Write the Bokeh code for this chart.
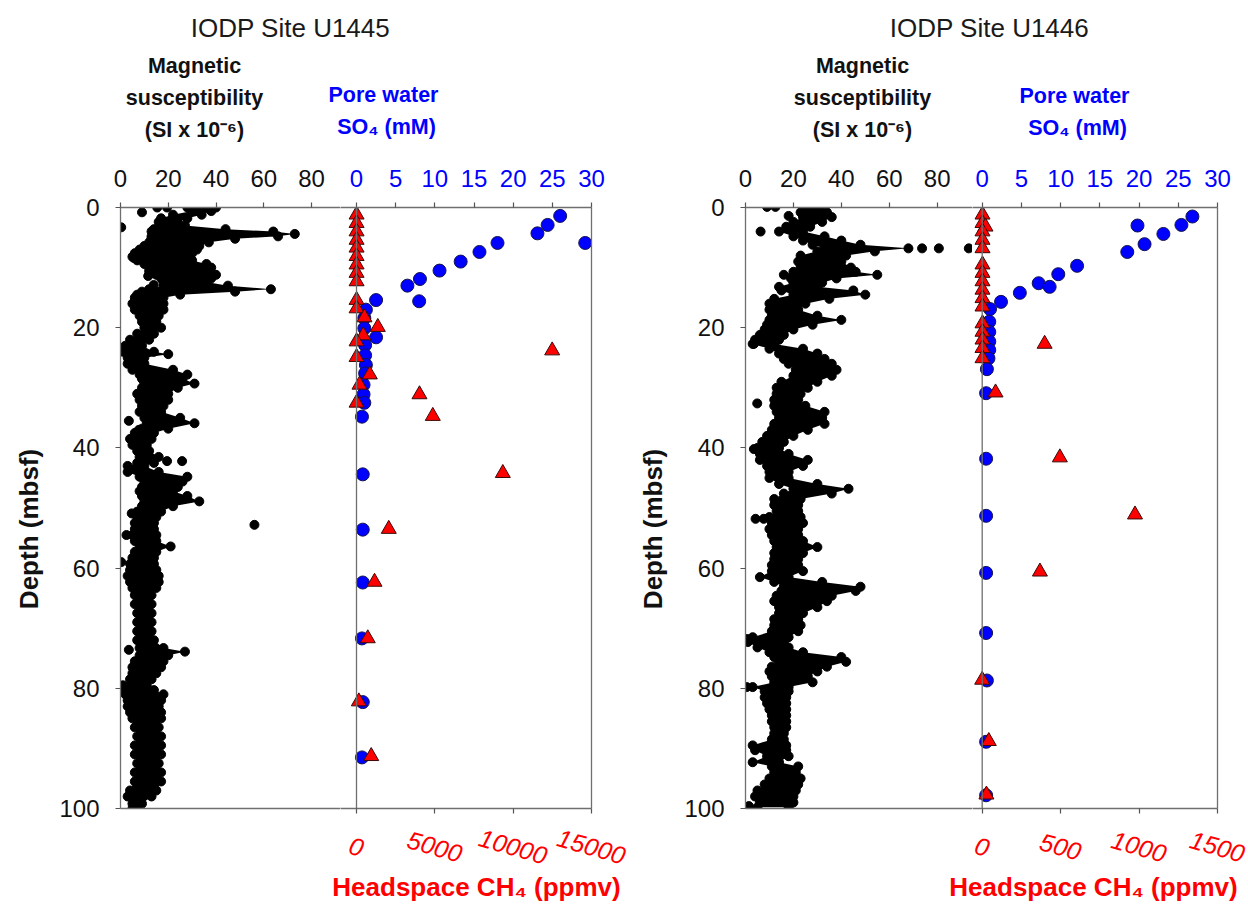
import math
from bokeh.plotting import figure
from bokeh.models import Range1d, LinearAxis, FixedTicker, Span
from bokeh.layouts import row, column
from bokeh.core.properties import value
from bokeh.embed import file_html
from bokeh.resources import INLINE

FONT = "Liberation Sans"

# ---------------- data ----------------
depth_ticks = [0, 20, 40, 60, 80, 100]
mag_ticks = [0, 20, 40, 60, 80]
so4_ticks = [0, 5, 10, 15, 20, 25, 30]
u1445_ch4_ticks = [0, 5000, 10000, 15000]
u1446_ch4_ticks = [0, 500, 1000, 1500]

# U1445 magnetic susceptibility: depth (mbsf) with low / high edge of the dense point cloud
u1445_ms_depth = [0.0, 0.6, 1.2, 1.8, 2.4, 3.0, 3.6, 4.0, 4.4, 4.8,
                  5.2, 5.8, 6.4, 7.0, 7.6, 8.2, 8.8, 9.4, 10.0, 10.6,
                  11.2, 11.8, 12.4, 13.0, 13.6, 14.0, 14.5, 15.0, 16.0, 17.0,
                  18.0, 19.0, 20.0, 21.0, 22.0, 23.0, 24.0, 24.4, 25.0, 26.0,
                  27.0, 27.8, 28.5, 29.3, 30.0, 31.0, 32.0, 33.0, 34.0, 35.0,
                  35.9, 36.8, 37.5, 38.5, 39.5, 40.5, 41.5, 42.5, 43.0, 44.0,
                  44.8, 45.6, 46.5, 47.2, 48.0, 48.9, 49.7, 50.6, 51.5, 52.5,
                  53.5, 54.5, 55.5, 56.4, 57.3, 58.3, 59.3, 60.3, 61.3, 62.3,
                  63.3, 64.5, 66.0, 67.5, 69.0, 70.5, 72.0, 73.3, 73.9, 74.5,
                  75.5, 76.5, 77.5, 78.5, 79.5, 80.3, 81.0, 82.0, 83.0, 84.0,
                  85.0, 86.5, 88.0, 89.5, 91.0, 92.5, 94.0, 95.5, 97.0, 98.0,
                  99.2, 100.0]
u1445_ms_low = [28, 30, 22, 17, 16, 17, 14, 13, 14, 13,
                13, 12, 10, 8, 6, 5, 7, 10, 12, 12,
                15, 17, 18, 18, 12, 9, 7, 6, 5, 6,
                8, 9, 10, 7, 4, 2, 1, 4, 3, 3,
                5, 8, 9, 10, 9, 7, 8, 9, 8, 10,
                11, 9, 6, 4, 5, 7, 8, 7, 3, 3,
                8, 10, 9, 8, 9, 10, 9, 7, 7, 6,
                6, 5, 6, 8, 6, 5, 4, 4, 3, 4,
                5, 6, 6, 7, 7, 7, 7, 8, 9, 8,
                6, 5, 5, 4, 1, 0, 2, 3, 3, 4,
                5, 6, 7, 6, 6, 7, 6, 6, 4, 3,
                5, 5]
u1445_ms_high = [40, 38, 34, 28, 24, 27, 44, 64, 73, 66,
                 48, 37, 33, 32, 30, 28, 30, 36, 38, 37,
                 40, 38, 36, 45, 63, 48, 25, 18, 18, 18,
                 16, 15, 17, 14, 12, 9, 14, 20, 10, 10,
                 22, 28, 26, 31, 24, 20, 20, 18, 17, 25,
                 31, 20, 14, 13, 11, 12, 16, 14, 10, 16,
                 28, 26, 24, 22, 28, 33, 22, 17, 15, 14,
                 14, 15, 15, 21, 15, 14, 14, 15, 16, 16,
                 15, 13, 13, 13, 13, 13, 14, 18, 27, 20,
                 18, 17, 15, 13, 11, 14, 18, 17, 16, 17,
                 17, 16, 17, 17, 17, 16, 17, 17, 15, 13,
                 9, 7]
u1445_ms_dot_depth = [0.0, 0.0, 0.8, 3.3, 8.4, 11.4, 12.9, 35.5, 37.0, 42.2,
                      42.2, 50.9, 52.8, 54.5, 59.0, 73.6, 78.0, 80.3]
u1445_ms_dot_value = [15.4, 19.5, 9.0, 0.3, 5.6, 11.6, 13.9, 3.5, 7.7, 19.5,
                      25.8, 4.7, 56.1, 2.5, 0.3, 3.5, 7.0, 0.0]

u1445_so4_depth = [1.4, 2.9, 4.3, 5.9, 5.9, 7.4, 9.0, 10.5, 11.9, 13.0,
                   15.4, 15.6, 17.0, 18.4, 20.1, 21.6, 22.9, 24.6, 26.2, 27.6,
                   29.5, 31.1, 32.5, 34.8, 44.4, 53.6, 62.4, 71.7, 82.3, 91.5]
u1445_so4 = [26.0, 24.4, 23.1, 29.2, 18.0, 15.7, 13.3, 10.6, 8.1, 6.5,
             2.5, 8.0, 1.2, 1.0, 1.0, 2.5, 1.1, 1.1, 1.2, 1.1,
             0.9, 0.9, 1.0, 0.7, 0.8, 0.8, 0.8, 0.7, 0.8, 0.7]

u1445_ch4_depth = [1.2, 2.6, 4.0, 5.4, 6.7, 8.1, 9.5, 10.9, 12.3, 15.4,
                   16.8, 18.3, 19.9, 21.3, 22.3, 23.8, 24.9, 27.8, 29.5, 31.1,
                   32.5, 34.7, 44.2, 53.5, 62.3, 71.7, 82.2, 91.3]
u1445_ch4 = [5, 5, 5, 5, 5, 5, 5, 5, 5, 5,
             5, 510, 1360, 430, 5, 12490, 5, 850, 190, 4020,
             5, 4870, 9340, 2060, 1150, 720, 150, 940]

# U1446 magnetic susceptibility
u1446_ms_depth = [0.0, 0.8, 1.6, 2.4, 3.2, 4.0, 4.8, 5.5, 6.2, 6.8,
                  7.3, 8.0, 9.0, 10.0, 10.7, 11.2, 11.8, 12.5, 13.2, 13.8,
                  14.5, 15.2, 16.0, 17.0, 18.0, 18.7, 19.5, 20.3, 21.2, 22.0,
                  22.7, 23.5, 24.3, 25.2, 26.0, 27.0, 28.0, 29.0, 30.0, 31.0,
                  32.0, 33.0, 34.0, 35.0, 36.0, 37.0, 38.0, 39.0, 40.0, 41.0,
                  42.0, 43.0, 44.0, 45.0, 46.0, 46.8, 47.6, 48.5, 49.5, 50.5,
                  51.5, 52.5, 53.5, 54.5, 55.5, 56.5, 57.5, 58.5, 59.5, 60.5,
                  61.5, 62.3, 63.1, 63.8, 64.6, 65.5, 66.5, 67.5, 68.5, 69.5,
                  70.5, 71.5, 72.3, 73.2, 74.0, 74.8, 75.6, 76.4, 77.2, 78.0,
                  79.0, 79.8, 80.5, 81.5, 82.5, 83.5, 84.5, 85.5, 86.5, 87.5,
                  88.5, 89.5, 90.3, 91.3, 92.3, 93.0, 94.0, 95.0, 96.0, 97.0,
                  98.0, 99.0, 99.8]
u1446_ms_low = [24, 23, 24, 20, 17, 14, 20, 24, 28, 33,
                30, 23, 22, 23, 20, 16, 19, 20, 14, 15,
                20, 12, 10, 10, 11, 10, 9, 8, 6, 4,
                3, 10, 14, 16, 18, 21, 20, 15, 13, 13,
                12, 12, 13, 14, 12, 11, 9, 7, 5, 6,
                6, 9, 10, 10, 14, 20, 16, 12, 12, 13,
                10, 11, 10, 11, 12, 13, 12, 12, 11, 11,
                6, 12, 16, 15, 13, 12, 14, 14, 12, 12,
                11, 3, 1, 5, 10, 12, 14, 11, 10, 11,
                12, 3, 8, 8, 9, 10, 11, 11, 12, 12,
                11, 3, 4, 9, 3, 11, 12, 10, 8, 5,
                4, 6, 5]
u1446_ms_high = [31, 34, 36, 32, 27, 24, 33, 40, 48, 68,
                 54, 42, 40, 44, 46, 55, 38, 32, 30, 45,
                 50, 35, 25, 22, 30, 40, 28, 20, 16, 14,
                 12, 24, 30, 33, 36, 38, 36, 30, 26, 23,
                 22, 25, 33, 32, 33, 26, 20, 16, 14, 18,
                 26, 24, 18, 18, 30, 43, 36, 23, 22, 22,
                 23, 24, 22, 22, 24, 30, 24, 22, 22, 24,
                 18, 32, 48, 46, 36, 34, 30, 24, 22, 23,
                 22, 18, 16, 18, 24, 40, 42, 34, 30, 26,
                 28, 18, 18, 17, 17, 17, 17, 17, 17, 16,
                 16, 17, 17, 18, 14, 22, 21, 23, 22, 21,
                 20, 20, 18]
u1446_ms_dot_depth = [-0.1, -0.1, 1.4, 4.0, 6.8, 6.8, 6.8, 20.9, 22.7, 32.6,
                      40.2, 51.8, 51.8, 71.8, 79.8, 99.6]
u1446_ms_dot_value = [9.0, 12.5, 18.0, 6.3, 73.7, 80.7, 93.2, 7.6, 3.5, 4.9,
                      3.5, 4.2, 7.6, 0.7, 0.5, 1.4]

u1446_so4_depth = [1.5, 2.9, 3.0, 4.4, 6.1, 7.4, 9.7, 11.1, 12.6, 13.2,
                   14.2, 15.7, 16.9, 19.0, 20.7, 22.3, 23.7, 25.1, 26.9, 30.9,
                   41.8, 51.3, 60.8, 70.8, 78.7, 88.9, 97.8]
u1446_so4 = [26.8, 25.4, 19.8, 23.1, 20.7, 18.5, 12.1, 9.7, 7.2, 8.6,
             4.8, 2.4, 1.0, 0.9, 0.9, 0.9, 0.9, 0.8, 0.6, 0.5,
             0.5, 0.5, 0.5, 0.5, 0.6, 0.5, 0.5]

u1446_ch4_depth = [1.2, 2.6, 3.2, 4.0, 5.4, 6.8, 9.5, 10.9, 12.3, 13.7,
                   15.1, 16.5, 19.3, 20.7, 22.0, 22.7, 23.4, 25.1, 30.8, 41.6,
                   51.1, 60.6, 78.6, 88.8, 97.7]
u1446_ch4 = [2, 2, 21, 2, 2, 2, 2, 2, 2, 2,
             2, 2, 2, 2, 2, 398, 2, 2, 85, 495,
             974, 368, 0, 42, 27]

for a, b in [(u1445_ms_depth, u1445_ms_low), (u1445_ms_depth, u1445_ms_high),
             (u1446_ms_depth, u1446_ms_low), (u1446_ms_depth, u1446_ms_high),
             (u1445_so4_depth, u1445_so4), (u1446_so4_depth, u1446_so4),
             (u1445_ch4_depth, u1445_ch4), (u1446_ch4_depth, u1446_ch4),
             (u1445_ms_dot_depth, u1445_ms_dot_value), (u1446_ms_dot_depth, u1446_ms_dot_value)]:
    assert len(a) == len(b), (len(a), len(b))

AXIS_GRAY = "#6f6f6f"
BLUE = "#0000ff"
RED = "#ff0000"
INK = "#111111"

# page layout (pixels)
W = 1248
HEAD_H = 150            # header strip with titles
PLOT_TOP = 207          # page y of depth 0
PLOT_BOT = 808          # page y of depth 100
FOOT_TOP = 823          # page y where footer strip starts
FOOT_H = 907 - FOOT_TOP
ROW_H = FOOT_TOP - HEAD_H


def style_axis(ax, color=INK, size="24px"):
    ax.axis_line_color = AXIS_GRAY
    ax.axis_line_width = 1.3
    ax.major_tick_line_color = "#555555"
    ax.major_tick_line_width = 1.2
    ax.major_tick_out = 5
    ax.major_tick_in = 0
    ax.minor_tick_line_color = None
    ax.major_label_text_font = FONT
    ax.major_label_text_font_size = size
    ax.major_label_text_color = color


def hide_labels(ax):
    ax.major_label_text_color = None
    ax.major_label_text_font_size = "1px"
    ax.major_label_standoff = 0


def base_fig(width, left, right, x_range):
    p = figure(width=width, height=ROW_H, output_backend="svg", toolbar_location=None,
               x_range=x_range, y_range=Range1d(100, 0),
               x_axis_location=None, y_axis_location=None,
               min_border_left=left, min_border_right=right,
               min_border_top=PLOT_TOP - HEAD_H, min_border_bottom=FOOT_TOP - PLOT_BOT,
               outline_line_color=None, background_fill_color="white",
               border_fill_color="white")
    p.grid.visible = False
    return p


def text_fig(x0, x1, y0, y1):
    """Plain strip in page-pixel coordinates that only carries texts."""
    f = figure(width=x1 - x0, height=y1 - y0, output_backend="svg", toolbar_location=None,
               x_range=Range1d(x0, x1), y_range=Range1d(y1, y0),
               x_axis_location=None, y_axis_location=None, min_border=0,
               outline_line_color=None, background_fill_color="white",
               border_fill_color="white")
    f.grid.visible = False
    return f


def ptext(fig, xs, ys, texts, size, color, style, angle=0.0):
    fig.text(x=xs, y=ys, text=texts, angle=angle, text_align="center", text_baseline="middle",
             text_font=value(FONT), text_font_size=value(size), text_color=color,
             text_font_style=style)


def mag_panel(canvas_x0, canvas_x1, frame_x0, ppu, ms_d, ms_lo, ms_hi, dot_d, dot_v):
    width = canvas_x1 - canvas_x0
    left = frame_x0 - canvas_x0
    fw = width - left
    p = base_fig(width, left, 0, Range1d(0, fw / ppu))
    p.harea(x1=ms_lo, x2=ms_hi, y=ms_d, fill_color="black")
    p.scatter(ms_lo + ms_hi + dot_v, ms_d + ms_d + dot_d, marker="circle", size=9,
              fill_color="black", line_color="black")

    ax_depth = LinearAxis(ticker=FixedTicker(ticks=depth_ticks))
    style_axis(ax_depth)
    ax_depth.major_label_standoff = 16
    p.add_layout(ax_depth, "left")

    ax_top = LinearAxis(ticker=FixedTicker(ticks=mag_ticks))
    style_axis(ax_top)
    ax_top.major_label_standoff = 16
    p.add_layout(ax_top, "above")

    ax_bot = LinearAxis(ticker=FixedTicker(ticks=[]))
    style_axis(ax_bot)
    hide_labels(ax_bot)
    ax_bot.major_tick_out = 0
    p.add_layout(ax_bot, "below")
    return p


def chem_panel(canvas_x0, canvas_x1, frame_x1, zero_x, so4_px, so4_d, so4_v, ch4_d, ch4_v,
               ch4_ticks):
    width = canvas_x1 - canvas_x0
    right = canvas_x1 - frame_x1
    ppu = so4_px / 30.0
    so4_start = -(zero_x - canvas_x0) / ppu
    ch4_max = ch4_ticks[-1]
    ch4_start = so4_start * ch4_max / 30.0
    p = base_fig(width, 0, right, Range1d(so4_start, 30))
    p.extra_x_ranges = {"ch4": Range1d(ch4_start, ch4_max)}

    p.add_layout(Span(location=0, dimension="height", line_color=AXIS_GRAY, line_width=1.3))

    p.scatter(so4_v, so4_d, marker="circle", size=13,
              fill_color=BLUE, line_color="#141450", line_width=1)
    p.scatter(ch4_v, ch4_d, x_range_name="ch4", marker="triangle", size=15,
              fill_color=RED, line_color="#3a0a0a", line_width=1)

    ax_top = LinearAxis(ticker=FixedTicker(ticks=so4_ticks), bounds=(so4_start, 30))
    style_axis(ax_top, color=BLUE)
    ax_top.major_label_standoff = 16
    p.add_layout(ax_top, "above")

    ax_bot = LinearAxis(x_range_name="ch4", ticker=FixedTicker(ticks=ch4_ticks),
                        bounds=(ch4_start, ch4_max))
    style_axis(ax_bot)
    hide_labels(ax_bot)
    p.add_layout(ax_bot, "below")

    ax_r = LinearAxis(ticker=FixedTicker(ticks=[]))
    style_axis(ax_r)
    hide_labels(ax_r)
    ax_r.major_tick_out = 0
    p.add_layout(ax_r, "right")
    return p


# ---- depth axis titles (narrow strips left of each site) ----
DA = text_fig(0, 50, HEAD_H, FOOT_TOP)
ptext(DA, [28], [510], ["Depth (mbsf)"], "26px", INK, "bold", math.pi / 2)
DB = text_fig(624, 676, HEAD_H, FOOT_TOP)
ptext(DB, [652], [510], ["Depth (mbsf)"], "26px", INK, "bold", math.pi / 2)

# ---- site panels ----
A1 = mag_panel(50, 340, 120, 2.3875, u1445_ms_depth, u1445_ms_low, u1445_ms_high,
               u1445_ms_dot_depth, u1445_ms_dot_value)
A2 = chem_panel(340, 624, 591, 356, 235, u1445_so4_depth, u1445_so4, u1445_ch4_depth,
                u1445_ch4, u1445_ch4_ticks)
B1 = mag_panel(676, 972, 745, 2.396, u1446_ms_depth, u1446_ms_low, u1446_ms_high,
               u1446_ms_dot_depth, u1446_ms_dot_value)
B2 = chem_panel(972, 1248, 1217, 981.7, 235.3, u1446_so4_depth, u1446_so4, u1446_ch4_depth,
                u1446_ch4, u1446_ch4_ticks)

# ---- header strip (titles and quantity labels) ----
head = text_fig(0, W, 0, HEAD_H)
ptext(head, [290, 989], [27, 27], ["IODP Site U1445", "IODP Site U1446"], "26px", "#1a1a1a",
      "normal")
ptext(head, [194, 194, 194, 862, 862, 862], [65, 97, 129, 65, 97, 129],
      ["Magnetic", "susceptibility", "(SI x 10\u207b\u2076)"] * 2, "21.5px", INK, "bold")
ptext(head, [383, 386, 1074, 1077], [94, 126, 95, 127],
      ["Pore water", "SO\u2084 (mM)"] * 2, "21.5px", BLUE, "bold")

# ---- footer strip (methane tick labels and axis titles) ----
foot = text_fig(0, W, FOOT_TOP, 907)
# methane scales aligned with the panels above
fA = 15000 / 235.0
fB = 1500 / 235.3
foot.extra_x_ranges = {"ch4A": Range1d(-356 * fA, (W - 356) * fA),
                       "ch4B": Range1d(-981.7 * fB, (W - 981.7) * fB)}
for ticks, rname in [(u1445_ch4_ticks, "ch4A"), (u1446_ch4_ticks, "ch4B")]:
    foot.text(x=ticks, y=[846] * len(ticks), text=[str(v) for v in ticks],
              x_range_name=rname, angle=-0.28, text_align="center", text_baseline="middle",
              text_font=value(FONT), text_font_size=value("25px"), text_font_style="italic",
              text_color=RED)
ptext(foot, [476, 1093], [886, 886], ["Headspace CH\u2084 (ppmv)"] * 2, "26px", RED, "bold")

layout = column(head, row(DA, A1, A2, DB, B1, B2, spacing=0), foot, spacing=0)
open("out.html", "w").write(file_html(layout, INLINE))
